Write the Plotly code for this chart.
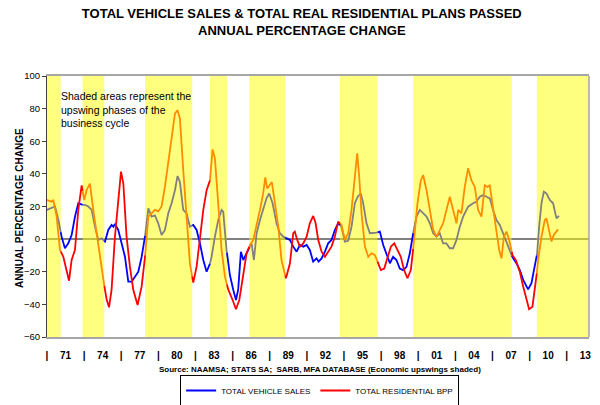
import numpy as np
import plotly.graph_objects as go

# ---------------- data ----------------
veh_years = [1969.47, 1969.88, 1970.15, 1970.42, 1970.68, 1970.95, 1971.22, 1971.49, 1971.76, 1972.03,
             1972.30, 1972.57, 1972.84, 1973.11, 1973.38, 1973.65, 1973.92, 1974.19, 1974.45, 1974.72,
             1974.86, 1974.99, 1975.26, 1975.53, 1975.80, 1976.07, 1976.34, 1976.61, 1976.88, 1977.15,
             1977.42, 1977.69, 1977.95, 1978.22, 1978.49, 1978.76, 1979.03, 1979.30, 1979.57, 1979.84,
             1980.05, 1980.24, 1980.51, 1980.78, 1981.05, 1981.32, 1981.59, 1981.86, 1982.13, 1982.40,
             1982.67, 1982.80, 1983.07, 1983.34, 1983.61, 1983.74, 1984.01, 1984.28, 1984.55, 1984.77,
             1984.95, 1985.17, 1985.36, 1985.57, 1985.76, 1986.03, 1986.22, 1986.44, 1986.71, 1986.97,
             1987.24, 1987.46, 1987.73, 1988.05, 1988.32, 1988.59, 1988.86, 1989.13, 1989.40, 1989.67,
             1989.94, 1990.21, 1990.48, 1990.74, 1991.01, 1991.28, 1991.45, 1991.69, 1991.96, 1992.22,
             1992.49, 1992.76, 1993.03, 1993.30, 1993.57, 1993.84, 1994.11, 1994.38, 1994.61, 1994.86,
             1995.05, 1995.32, 1995.59, 1995.86, 1996.13, 1996.40, 1996.67, 1996.94, 1997.21, 1997.47,
             1997.74, 1998.01, 1998.28, 1998.55, 1998.82, 1999.09, 1999.36, 1999.63, 1999.90, 2000.17,
             2000.44, 2000.71, 2000.98, 2001.24, 2001.51, 2001.78, 2002.05, 2002.32, 2002.59, 2002.86,
             2003.13, 2003.53, 2003.94, 2004.21, 2004.48, 2004.75, 2005.02, 2005.28, 2005.55, 2005.82,
             2006.09, 2006.36, 2006.63, 2006.90, 2007.17, 2007.44, 2007.71, 2007.98, 2008.38, 2008.65,
             2008.92, 2009.11, 2009.27, 2009.46, 2009.65, 2009.86, 2010.13, 2010.40, 2010.67, 2010.88]
veh_values = [17.9, 18.9, 20, 11.7, 1.5, -5.6, -2.6, 2.5, 13.8, 22,
              21, 21, 20, 17.9, 7.6, -0.5, 0.5, -1.5, 5.6, 8.7,
              7.6, 9.3, 5.6, -2.6, -10.8, -26, -26, -23, -20, -10.8,
              1.5, 18.9, 13.8, 14.5, 9.7, 2.5, 5.6, 15.8, 22, 30,
              38.7, 35, 18, 15.8, 7.6, 8.7, 5.6, -2.6, -12.8, -20,
              -15, -10.8, 1.5, 11.7, 17.9, 16.8, -6.6, -22, -31, -37.3,
              -31, -7.7, -12.8, -9.7, -6.6, -2.6, -12.8, 3.6, 11.7, 17.9,
              25, 28, 22, 9.7, 3.6, 1.5, 0.5, -0.5, -4.6, -7.7,
              -3.6, -4.6, -3.6, -6.6, -13.8, -11.8, -13.8, -11.8, -7.7, -2.6,
              -0.5, 5.6, 9.7, 7.6, -1.5, -1, 7.6, 22, 26, 28,
              22, 9.7, 3.6, 3.6, 4, 4.6, -3.6, -8.7, -14.8, -10.8,
              -12.8, -18, -19, -17, -8.7, 3.6, 13.8, 17.9, 15.8, 13.8,
              9.7, 3.6, 1.5, 3.6, -2.6, -2.6, -5.6, -5.6, -0.5, 7.6,
              13.8, 19.9, 22, 23, 26, 27, 26, 25, 17.9, 11.7,
              8.7, 3.6, -2.6, -7.7, -11.8, -14.8, -19, -25, -30.8, -27,
              -16.9, -8.7, 7.6, 22, 29.1, 28, 24, 22, 12.7, 14.2]

res_years = [1969.47, 1969.88, 1970.01, 1970.28, 1970.55, 1970.82, 1971.01, 1971.28, 1971.49, 1971.76,
             1972.03, 1972.30, 1972.51, 1972.70, 1972.97, 1973.24, 1973.51, 1973.78, 1974.05, 1974.32,
             1974.51, 1974.72, 1974.99, 1975.26, 1975.48, 1975.67, 1975.93, 1976.20, 1976.47, 1976.82,
             1977.15, 1977.42, 1977.69, 1977.95, 1978.22, 1978.49, 1978.76, 1979.03, 1979.30, 1979.57,
             1979.84, 1980.05, 1980.24, 1980.51, 1980.78, 1981.05, 1981.32, 1981.59, 1981.86, 1982.13,
             1982.40, 1982.67, 1982.88, 1983.07, 1983.34, 1983.61, 1983.88, 1984.15, 1984.50, 1984.77,
             1985.04, 1985.36, 1985.63, 1985.90, 1986.17, 1986.49, 1986.71, 1986.97, 1987.14, 1987.30,
             1987.51, 1987.67, 1987.92, 1988.19, 1988.45, 1988.81, 1989.13, 1989.40, 1989.53, 1989.72,
             1989.94, 1990.21, 1990.48, 1990.74, 1991.01, 1991.20, 1991.42, 1991.69, 1991.96, 1992.22,
             1992.49, 1992.76, 1993.03, 1993.30, 1993.57, 1993.84, 1994.11, 1994.33, 1994.49, 1994.57,
             1994.73, 1994.92, 1995.19, 1995.46, 1995.73, 1995.99, 1996.21, 1996.48, 1996.75, 1997.02,
             1997.29, 1997.56, 1997.83, 1998.09, 1998.36, 1998.63, 1998.90, 1999.17, 1999.44, 1999.71,
             1999.90, 2000.17, 2000.44, 2000.71, 2000.98, 2001.24, 2001.51, 2001.78, 2002.05, 2002.32,
             2002.59, 2002.73, 2002.99, 2003.26, 2003.53, 2003.80, 2004.07, 2004.34, 2004.61, 2004.88,
             2005.10, 2005.28, 2005.50, 2005.77, 2006.04, 2006.23, 2006.42, 2006.63, 2006.85, 2007.11,
             2007.38, 2007.71, 2007.98, 2008.25, 2008.46, 2008.73, 2009.00, 2009.19, 2009.46, 2009.73,
             2009.86, 2010.08, 2010.27, 2010.45, 2010.80]
res_values = [24, 23, 24, 13.8, -6.6, -10.8, -16.9, -25.5, -12.8, -6.6,
              17.9, 33, 24, 30, 34, 17.9, 3.6, -10.8, -25, -37,
              -41.8, -31, 1.5, 26, 41.4, 34, 1.5, -16.9, -31, -40.4,
              -29, -10.8, 13.8, 15.8, 17.9, 17, 20, 32, 46.5, 62.8,
              77, 79, 74, 42.4, 11.7, -15, -26.7, -16.9, 1.5, 17.9,
              30, 36, 55, 49.5, 17.9, -6.6, -23, -31, -37.3, -43,
              -37.3, -21, -8.7, -3.6, -0.5, 9.7, 17.9, 28, 37.9, 31,
              33, 35, 22, 7.6, -12.8, -24, -15, 3.6, 4.6, -0.5,
              -4.6, -2.6, 1.5, 9.7, 14.2, 10, -0.5, -7.7, -10.8, -7.7,
              -4.6, 1.5, 10.7, 8.7, -0.5, 3.6, 17.9, 34, 44.4, 52.6,
              38.3, 15.8, -4.6, -10.8, -8.7, -9.7, -13.8, -19, -18, -10.8,
              -4.6, -2.6, -6.6, -10.8, -19, -24, -19, -0.5, 22, 36,
              39.3, 30, 17.9, 5.6, 1.5, 5.6, 9.7, 17.9, 26, 17.9,
              9.7, 17.9, 15.8, 32, 43.4, 36, 32, 17.9, 13.8, 33,
              32, 33, 22, 9.7, -6.6, -11.8, 1.5, 4.6, -0.5, -9.7,
              -12.8, -20, -29, -37.3, -43, -41.4, -27, -12.8, 1.5, 11.7,
              12.7, 5.6, -1.5, 2.5, 6]

upswing_start = [1969.5, 1972.38, 1977.43, 1982.67, 1985.84, 1993.17, 1999.09, 2009.08]
upswing_end = [1970.61, 1974.13, 1981.23, 1984.04, 1988.75, 1996.21, 2007.06, 2013.3]

sep_ticks = [1969.5 + 3 * i for i in range(15)]
year_ticks = [1971 + 3 * i for i in range(15)]
year_labels = ['71', '74', '77', '80', '83', '86', '89', '92', '95', '98', '01', '04', '07', '10', '13']

X_RANGE = [1969.5, 2013.3]
Y_RANGE = [-60, 100]


def split_by_bands(xs, ys):
    """Split a series into the part inside upswing bands and the part outside."""
    bounds = sorted(upswing_start + upswing_end)
    px, py = [xs[0]], [ys[0]]
    for i in range(1, len(xs)):
        for b in bounds:
            if xs[i - 1] < b < xs[i]:
                t = (b - xs[i - 1]) / (xs[i] - xs[i - 1])
                px.append(b)
                py.append(ys[i - 1] + t * (ys[i] - ys[i - 1]))
        px.append(xs[i])
        py.append(ys[i])
    eps = 1e-9
    inside, outside = [], []
    for x, y in zip(px, py):
        on_edge = any(abs(x - b) < eps for b in bounds)
        in_band = any(s - eps <= x <= e + eps for s, e in zip(upswing_start, upswing_end))
        inside.append(y if in_band else None)
        outside.append(y if (not in_band or on_edge) else None)
    return px, inside, outside


fig = go.Figure()

vx, v_in, v_out = split_by_bands(veh_years, veh_values)
rx, r_in, r_out = split_by_bands(res_years, res_values)

LW = 1.8
fig.add_trace(go.Scatter(x=vx, y=v_in, mode='lines', line=dict(color='#808080', width=LW),
                         showlegend=False, hoverinfo='skip'))
fig.add_trace(go.Scatter(x=rx, y=r_in, mode='lines', line=dict(color='#FF8C00', width=LW),
                         showlegend=False, hoverinfo='skip'))
fig.add_trace(go.Scatter(x=vx, y=v_out, mode='lines', line=dict(color='#0000FF', width=LW),
                         name='TOTAL VEHICLE SALES'))
fig.add_trace(go.Scatter(x=rx, y=r_out, mode='lines', line=dict(color='#FF0000', width=LW),
                         name='TOTAL RESIDENTIAL BPP'))

shapes = []
for s, e in zip(upswing_start, upswing_end):
    shapes.append(dict(type='rect', xref='x', yref='y', x0=s, x1=e, y0=Y_RANGE[0], y1=Y_RANGE[1],
                       fillcolor='rgba(255,255,0,0.5)', line=dict(width=0), layer='between'))
shapes.append(dict(type='line', xref='paper', yref='paper', x0=1, x1=1, y0=0, y1=1,
                   line=dict(color='#A6A6A6', width=1.5)))

tickvals = sep_ticks + year_ticks
ticktext = ['|'] * len(sep_ticks) + year_labels
order = np.argsort(tickvals)
tickvals = [tickvals[i] for i in order]
ticktext = [ticktext[i] for i in order]

BASE = 'Liberation Sans, Arial, sans-serif'

fig.update_layout(
    width=600, height=405,
    margin=dict(l=47, r=11, t=76, b=68, autoexpand=False),
    paper_bgcolor='white', plot_bgcolor='white',
    title=dict(text='<b>TOTAL VEHICLE SALES & TOTAL REAL RESIDENTIAL PLANS PASSED<br>ANNUAL PERCENTAGE CHANGE</b>',
               x=0.503, xanchor='center', y=0.955, yanchor='top',
               font=dict(family=BASE, size=13, color='black')),
    xaxis=dict(range=X_RANGE, tickmode='array', tickvals=tickvals, ticktext=ticktext,
               showgrid=False, zeroline=False, showline=True, mirror=True,
               linecolor='#A6A6A6', linewidth=1.5, ticks='', ticklabelstandoff=8,
               tickfont=dict(family=BASE, size=10, color='black', weight='bold')),
    yaxis=dict(range=Y_RANGE, dtick=20, tick0=0, showgrid=False,
               zeroline=True, zerolinecolor='#808080', zerolinewidth=1.5,
               showline=True, linecolor='#404040', linewidth=1, ticks='outside', ticklen=4,
               tickcolor='#404040', tickfont=dict(family=BASE, size=9.5, color='black')),
    shapes=shapes,
    legend=dict(orientation='h', x=0.503, xanchor='center', xref='paper',
                y=1 - 375 / 405, yanchor='top', yref='container',
                bordercolor='black', borderwidth=1, bgcolor='white',
                font=dict(family=BASE, size=8, color='black'), itemwidth=30,
                tracegroupgap=0, itemclick=False),
    annotations=[
        dict(text='Shaded areas represent the<br>upswing phases of the<br>business cycle',
             xref='paper', yref='paper', x=(59 - 47) / 542, y=(337 - 88) / 261,
             xanchor='left', yanchor='top', align='left', showarrow=False,
             font=dict(family=BASE, size=10.5, color='black')),
        dict(text='<b>ANNUAL PERCENTAGE CHANGE</b>', textangle=-90,
             xref='paper', yref='paper', x=(19 - 47) / 542, y=(337 - 208) / 261,
             xanchor='center', yanchor='middle', showarrow=False,
             font=dict(family=BASE, size=10, color='black')),
        dict(text='<b>Source: NAAMSA; STATS SA;  SARB, MFA DATABASE (Economic upswings shaded)</b>',
             xref='paper', yref='paper', x=(320 - 47) / 542, y=(337 - 369) / 261,
             xanchor='center', yanchor='middle', showarrow=False,
             font=dict(family=BASE, size=8, color='black')),
    ],
)

fig.write_html('out.html')
